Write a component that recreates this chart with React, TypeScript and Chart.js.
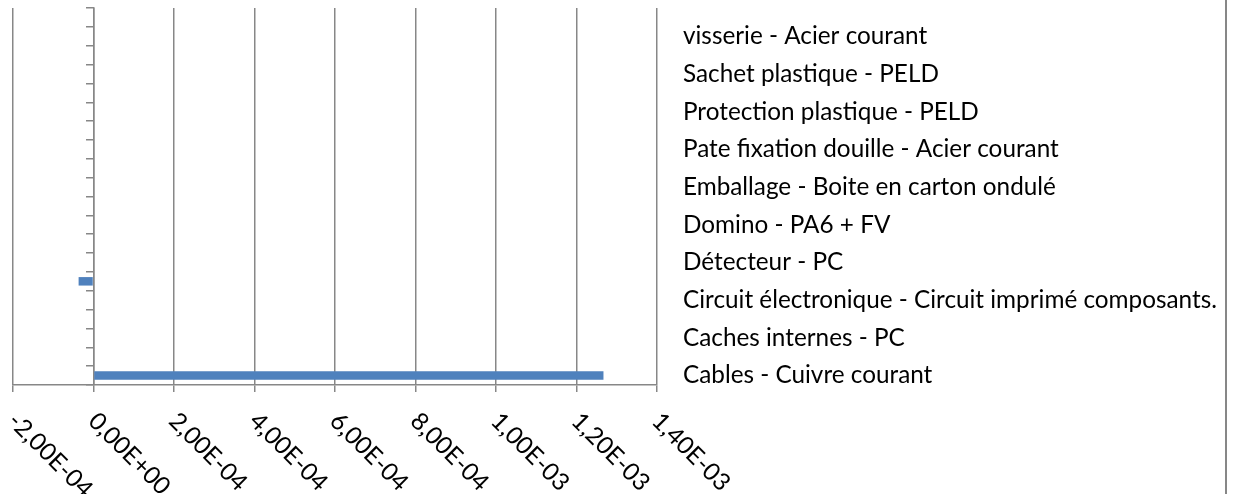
import { useEffect, useRef } from 'react';
import { Chart, registerables } from 'chart.js';

Chart.register(...registerables);

// Categories from bottom to top (as in the reference); unlabeled categories are blank
const categories: string[] = [
  'Cables - Cuivre courant',
  '',
  'Caches internes - PC',
  '',
  'Circuit électronique - Circuit imprimé composants.',
  '',
  'Détecteur - PC',
  '',
  'Domino - PA6 + FV',
  '',
  'Emballage - Boite en carton ondulé',
  '',
  'Pate fixation douille - Acier courant',
  '',
  'Protection plastique - PELD',
  '',
  'Sachet plastique - PELD',
  '',
  'visserie - Acier courant',
  '',
];

const values: number[] = [
  1.267e-3, 0, 0, 0, 0, -3.7e-5, 0, 0, 0, 0,
  0, 0, 0, 0, 0, 0, 0, 0, 0, 0,
];

const xMin = -2e-4;
const xMax = 1.4e-3;
const xStep = 2e-4;

const FONT = 'Lato';
const FONT_SIZE = 24.3;
const GRID = '#878787';
const BAR = '#4F81BD';

function fmtSci(v: number): string {
  const [m, e] = v.toExponential(2).split('e');
  const n = parseInt(e, 10);
  const sign = n < 0 ? '-' : '+';
  const abs = Math.abs(n).toString().padStart(2, '0');
  return m.replace('.', ',') + 'E' + sign + abs;
}

const decorPlugin = {
  id: 'decor',
  afterDraw(chart: any) {
    const { ctx } = chart;
    const xs = chart.scales.x;
    ctx.save();
    ctx.fillStyle = '#000';
    ctx.font = `${FONT_SIZE}px ${FONT}`;
    ctx.textAlign = 'left';
    ctx.textBaseline = 'middle';
    for (const t of xs.ticks) {
      const px = xs.getPixelForValue(t.value);
      ctx.save();
      ctx.translate(px - 1, 417);
      ctx.rotate(Math.PI / 4);
      ctx.fillText(fmtSci(t.value), 0, 0);
      ctx.restore();
    }
    // right border of the chart frame
    ctx.strokeStyle = GRID;
    ctx.lineWidth = 2;
    ctx.beginPath();
    ctx.moveTo(1226, 0);
    ctx.lineTo(1226, chart.height);
    ctx.stroke();
    ctx.restore();
  },
};

export default function App() {
  const ref = useRef<HTMLCanvasElement | null>(null);

  useEffect(() => {
    document.body.style.margin = '0';
    const canvas = ref.current;
    if (!canvas) return;
    const chart = new Chart(canvas, {
      type: 'bar',
      data: {
        labels: categories,
        datasets: [
          {
            data: values,
            backgroundColor: BAR,
            borderWidth: 0,
            barPercentage: 0.45,
            categoryPercentage: 1,
          },
        ],
      },
      plugins: [decorPlugin],
      options: {
        indexAxis: 'y',
        animation: false,
        responsive: false,
        devicePixelRatio: 1,
        layout: { padding: { left: 13, top: 8, right: 0, bottom: 102 } },
        plugins: { legend: { display: false }, tooltip: { enabled: false } },
        scales: {
          x: {
            type: 'linear',
            position: 'bottom',
            min: xMin,
            max: xMax,
            ticks: { display: false, stepSize: xStep },
            grid: { color: GRID, lineWidth: 1.5, drawTicks: true, tickLength: 7 },
            border: { display: true, color: GRID, width: 1.5 },
            afterFit: (s: any) => {
              s.paddingLeft = 0;
              s.paddingRight = 0;
            },
          },
          y: {
            type: 'category',
            position: 'right',
            reverse: true,
            offset: true,
            grid: { display: false, drawTicks: false },
            border: { display: false },
            ticks: {
              autoSkip: false,
              padding: 26,
              color: '#000',
              font: { family: FONT, size: FONT_SIZE },
            },
            afterFit: (s: any) => {
              s.width = 1238 - 657;
              s.paddingTop = 0;
              s.paddingBottom = 0;
            },
          },
          y2: {
            type: 'category',
            axis: 'y',
            position: { x: 0 },
            reverse: true,
            offset: true,
            ticks: { display: false },
            grid: { offset: true, drawOnChartArea: false, drawTicks: true, tickLength: 7, color: GRID, lineWidth: 1.5 },
            border: { display: true, color: GRID, width: 1.5 },
            afterFit: (s: any) => {
              s.width = 0;
              s.paddingTop = 0;
              s.paddingBottom = 0;
            },
          },
        },
      },
    } as any);
    return () => chart.destroy();
  }, []);

  return <canvas ref={ref} width={1238} height={494} style={{ display: 'block' }} />;
}
